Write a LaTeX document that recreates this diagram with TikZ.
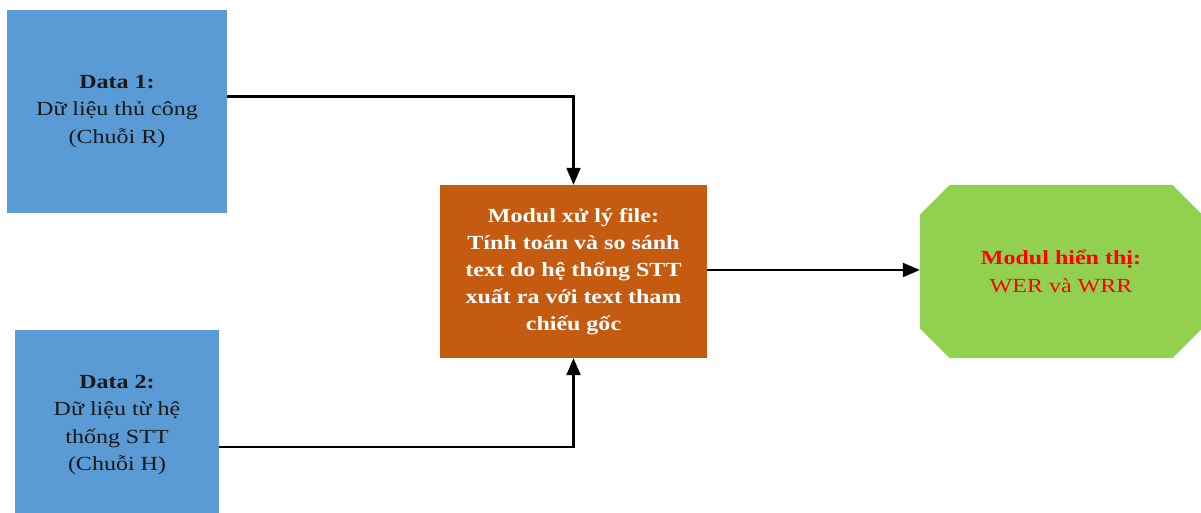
\documentclass[tikz,border=0pt]{standalone}
\usepackage{fontspec}
\setmainfont{Liberation Serif}[FakeStretch=1.2]
\usetikzlibrary{arrows.meta,shapes.misc}
\definecolor{boxblue}{HTML}{5B9BD5}
\definecolor{boxorange}{HTML}{C55A11}
\definecolor{boxgreen}{HTML}{92D050}
\definecolor{textred}{HTML}{FF0000}
\begin{document}
\begin{tikzpicture}[x=1pt,y=-1pt,
  box/.style={rectangle,inner sep=0pt,align=center,font=\fontsize{20}{27.5}\selectfont},
  datab/.style={box,fill=boxblue,text=black!90},
  procb/.style={box,fill=boxorange,text=white,font=\fontsize{20}{27}\selectfont\bfseries},
  dispb/.style={chamfered rectangle,chamfered rectangle xsep=14.5pt,chamfered rectangle ysep=15pt,inner sep=0pt,fill=boxgreen,text=textred,align=center,font=\fontsize{20}{28}\selectfont},
  conn/.style={line width=2.2pt,draw=black,-{Triangle[length=17pt,width=14pt]}}]
\path[use as bounding box] (0,0) rectangle (1201,513);
\clip (0,0) rectangle (1201,513);
\fill[white] (0,0) rectangle (1201,513);
\node[datab,minimum width=220pt,minimum height=203pt] (d1) at (117,111.5)
  {\textbf{Data 1:}\\Dữ liệu thủ công\\(Chuỗi R)};
\node[datab,minimum width=204pt,minimum height=190pt] (d2) at (117,425)
  {\textbf{Data 2:}\\Dữ liệu từ hệ\\thống STT\\(Chuỗi H)};
\node[procb,minimum width=267pt,minimum height=173pt] (proc) at (573.5,271.5)
  {Modul xử lý file:\\Tính toán và so sánh\\text do hệ thống STT\\xuất ra với text tham\\chiếu gốc};
\node[dispb,minimum width=282pt,minimum height=173pt] (disp) at (1061,271.5)
  {\textbf{Modul hiển thị:}\\WER và WRR};
\draw[conn] ([yshift=15pt]d1.east) -| (proc.north);
\draw[conn] ([yshift=-22pt]d2.east) -| (proc.south);
\draw[conn] ([yshift=1.5pt]proc.east) -- ([yshift=1.5pt]disp.west);
\end{tikzpicture}
\end{document}
